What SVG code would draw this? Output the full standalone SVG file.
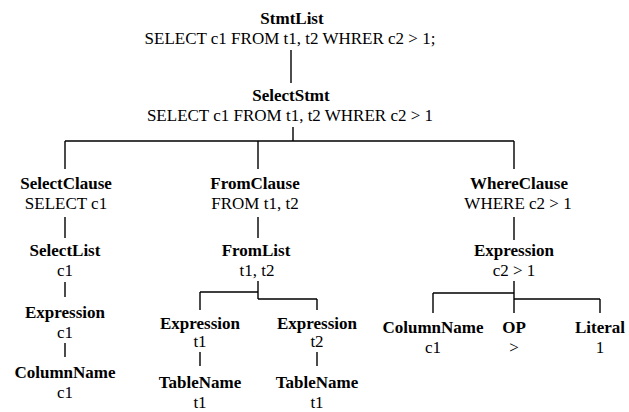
<svg xmlns="http://www.w3.org/2000/svg" width="629" height="412" viewBox="0 0 629 412">
<style>
text{font-family:"Liberation Serif","Times New Roman",serif;font-size:17px;fill:#000;text-anchor:middle}
.b{font-weight:bold}
.c{fill:none;stroke:#000;stroke-width:1.4}
</style>
<rect width="629" height="412" fill="#fff"/>
<g id="connectors" class="c">
<path d="M291,50V83"/>
<path d="M293,127V141M65,141H514M65,141V169M258,141V169M514,141V169"/>
<path d="M65,217V238M65,282V297M65,343V357"/>
<path d="M258,217V238M258,281V299M200,292H258M200,292V310M258,299H317M317,299V310M200,352V366M317,352V366"/>
<path d="M514,217V240M514,281V313M433,293H514M433,293V313M514,299H600M600,299V313"/>
</g>
<g id="stmtlist"><text class="b" x="292" y="24">StmtList</text><text x="290" y="44">SELECT c1 FROM t1, t2 WHRER c2 &gt; 1;</text></g>
<g id="selectstmt"><text class="b" x="291" y="101">SelectStmt</text><text x="290" y="121">SELECT c1 FROM t1, t2 WHRER c2 &gt; 1</text></g>
<g id="selectclause"><text class="b" x="66" y="189">SelectClause</text><text x="66" y="209">SELECT c1</text></g>
<g id="selectlist"><text class="b" x="65" y="256">SelectList</text><text x="65" y="276">c1</text></g>
<g id="expr-c1"><text class="b" x="65" y="318">Expression</text><text x="65" y="338">c1</text></g>
<g id="colname-c1"><text class="b" x="65" y="378">ColumnName</text><text x="65" y="398">c1</text></g>
<g id="fromclause"><text class="b" x="255" y="189">FromClause</text><text x="255" y="209">FROM t1, t2</text></g>
<g id="fromlist"><text class="b" x="256" y="256">FromList</text><text x="257" y="276">t1, t2</text></g>
<g id="expr-t1"><text class="b" x="200" y="329">Expression</text><text x="200" y="347">t1</text></g>
<g id="expr-t2"><text class="b" x="317" y="329">Expression</text><text x="317" y="347">t2</text></g>
<g id="table-t1"><text class="b" x="200" y="388">TableName</text><text x="200" y="408">t1</text></g>
<g id="table-t2"><text class="b" x="317" y="388">TableName</text><text x="317" y="408">t1</text></g>
<g id="whereclause"><text class="b" x="519" y="189">WhereClause</text><text x="518" y="209">WHERE c2 &gt; 1</text></g>
<g id="expr-where"><text class="b" x="514" y="256">Expression</text><text x="514" y="276">c2 &gt; 1</text></g>
<g id="colname-where"><text class="b" x="433" y="333">ColumnName</text><text x="433" y="353">c1</text></g>
<g id="op"><text class="b" x="514" y="333">OP</text><text x="514" y="353">&gt;</text></g>
<g id="literal"><text class="b" x="600" y="333">Literal</text><text x="600" y="353">1</text></g>
</svg>
